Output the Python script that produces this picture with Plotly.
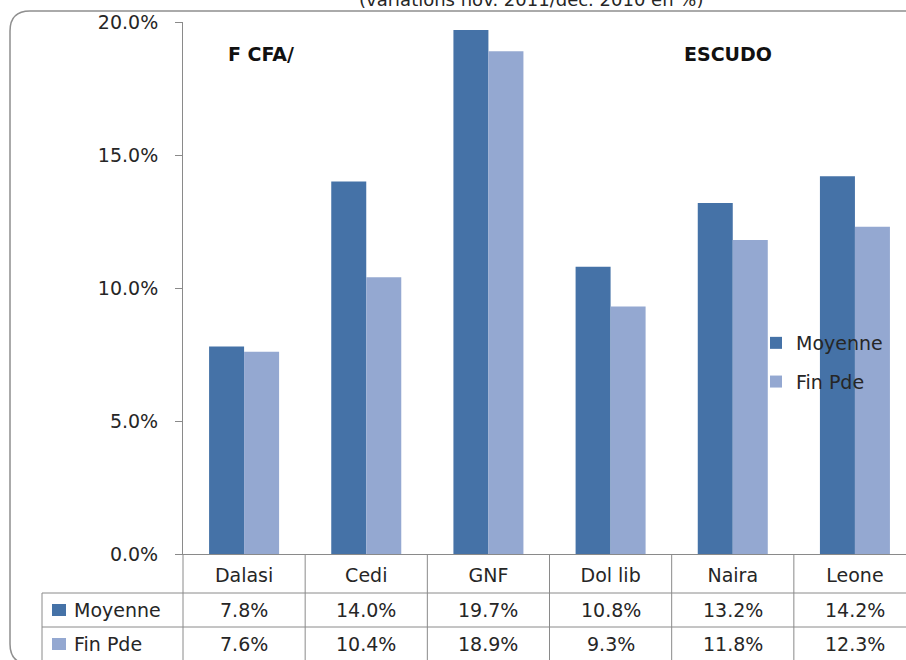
import plotly.graph_objects as go

# ---- data ----
categories = ["Dalasi", "Cedi", "GNF", "Dol lib", "Naira", "Leone"]
series_names = ["Moyenne", "Fin Pde"]
moyenne = [7.8, 14.0, 19.7, 10.8, 13.2, 14.2]
fin_pde = [7.6, 10.4, 18.9, 9.3, 11.8, 12.3]
colors = ["#4572A7", "#94A8D1"]
title_text = "(variations nov. 2011/déc. 2010 en %)"
left_note = "F CFA/"
right_note = "ESCUDO"

W, H = 906, 660
L, R, T, B = 183, 0, 22, 106
PW, PH = W - L - R, H - T - B

def px_x(px):
    return (px - L) / PW

def px_y(py):
    return (H - B - py) / PH

FONT = "DejaVu Sans"
TXT = "#262626"
LINE = "#8a8a8a"
FS = 19

fig = go.Figure()
for name, vals, col in zip(series_names, [moyenne, fin_pde], colors):
    fig.add_trace(go.Bar(
        x=categories, y=[v / 100 for v in vals], name=name,
        marker=dict(color=col, line=dict(width=0)),
        legendgroup=name,
    ))

shapes = []
annotations = []

# table vertical lines at category boundaries (through header and rows)
shapes.append(dict(type="line", xref="paper", yref="paper", x0=0, x1=0,
                   y0=px_y(H + 5), y1=0, line=dict(color=LINE, width=1)))
for i in range(1, len(categories)):
    shapes.append(dict(type="line", xref="x", yref="paper", x0=i - 0.5, x1=i - 0.5,
                       y0=px_y(H + 5), y1=0, line=dict(color=LINE, width=1)))
# table horizontal lines
for py in (593, 627):
    shapes.append(dict(type="line", xref="paper", yref="paper", x0=px_x(42), x1=1.0,
                       y0=px_y(py), y1=px_y(py), line=dict(color=LINE, width=1)))
# left border of row-label column
shapes.append(dict(type="line", xref="paper", yref="paper", x0=px_x(42), x1=px_x(42),
                   y0=px_y(593), y1=px_y(H + 5), line=dict(color=LINE, width=1)))

# outer rounded frame
lx, ty, by, r = 10, 11, 664, 20
path = (f"M {px_x(W + 10)},{px_y(ty)} L {px_x(lx + r)},{px_y(ty)} "
        f"Q {px_x(lx)},{px_y(ty)} {px_x(lx)},{px_y(ty + r)} "
        f"L {px_x(lx)},{px_y(by - r)} Q {px_x(lx)},{px_y(by)} {px_x(lx + r)},{px_y(by)} "
        f"L {px_x(W + 10)},{px_y(by)}")
shapes.append(dict(type="path", xref="paper", yref="paper", path=path,
                   line=dict(color="#8f8f8f", width=1.5)))

# row labels with colour keys
row_centers = [610, 644]
for name, col, cy, vals in zip(series_names, colors, row_centers, [moyenne, fin_pde]):
    shapes.append(dict(type="rect", xref="paper", yref="paper",
                       x0=px_x(52), x1=px_x(66), y0=px_y(cy + 6), y1=px_y(cy - 6),
                       fillcolor=col, line=dict(width=0)))
    annotations.append(dict(xref="paper", yref="paper", x=px_x(72), y=px_y(cy),
                            xanchor="left", yanchor="middle", text=name, showarrow=False,
                            font=dict(family=FONT, size=FS, color=TXT)))
    for cat, v in zip(categories, vals):
        annotations.append(dict(xref="x", yref="paper", x=cat, y=px_y(cy),
                                xanchor="center", yanchor="middle", text=f"{v:.1f}%",
                                showarrow=False, font=dict(family=FONT, size=FS, color=TXT)))

# title (cut at top, as in the source image)
annotations.append(dict(xref="paper", yref="paper", x=px_x(531), y=px_y(12),
                        xanchor="center", yanchor="bottom", text=title_text, showarrow=False,
                        font=dict(family=FONT, size=18, color=TXT)))
# notes
annotations.append(dict(xref="paper", yref="paper", x=px_x(261), y=px_y(54),
                        xanchor="center", yanchor="middle", text=f"<b>{left_note}</b>",
                        showarrow=False, font=dict(family=FONT, size=19, color="#111111")))
annotations.append(dict(xref="paper", yref="paper", x=px_x(728), y=px_y(54),
                        xanchor="center", yanchor="middle", text=f"<b>{right_note}</b>",
                        showarrow=False, font=dict(family=FONT, size=19, color="#111111")))

fig.update_layout(
    width=W, height=H,
    margin=dict(l=L, r=R, t=T, b=B, autoexpand=False),
    paper_bgcolor="white", plot_bgcolor="white",
    barmode="group", bargap=0.427, bargroupgap=0,
    font=dict(family=FONT, size=FS, color=TXT),
    showlegend=True,
    legend=dict(x=px_x(756), y=px_y(324), xanchor="left", yanchor="top",
                bgcolor="rgba(0,0,0,0)", borderwidth=0, tracegroupgap=11,
                font=dict(family=FONT, size=FS, color=TXT)),
    shapes=shapes, annotations=annotations,
)
fig.update_xaxes(type="category", range=[-0.5, 5.418], showline=True, linecolor=LINE,
                 linewidth=1, ticks="", showgrid=False, zeroline=False,
                 ticklabelstandoff=4, tickfont=dict(family=FONT, size=FS, color=TXT))
fig.update_yaxes(range=[0, 0.20], dtick=0.05, tickformat=".1%", showline=True,
                 linecolor=LINE, linewidth=1, ticks="outside", ticklen=7, tickcolor=LINE,
                 showgrid=False, zeroline=False, ticklabelstandoff=13,
                 tickfont=dict(family=FONT, size=FS, color=TXT))

fig.write_html("out.html", config={"displayModeBar": False},
               post_script="document.body.style.margin='0';")
